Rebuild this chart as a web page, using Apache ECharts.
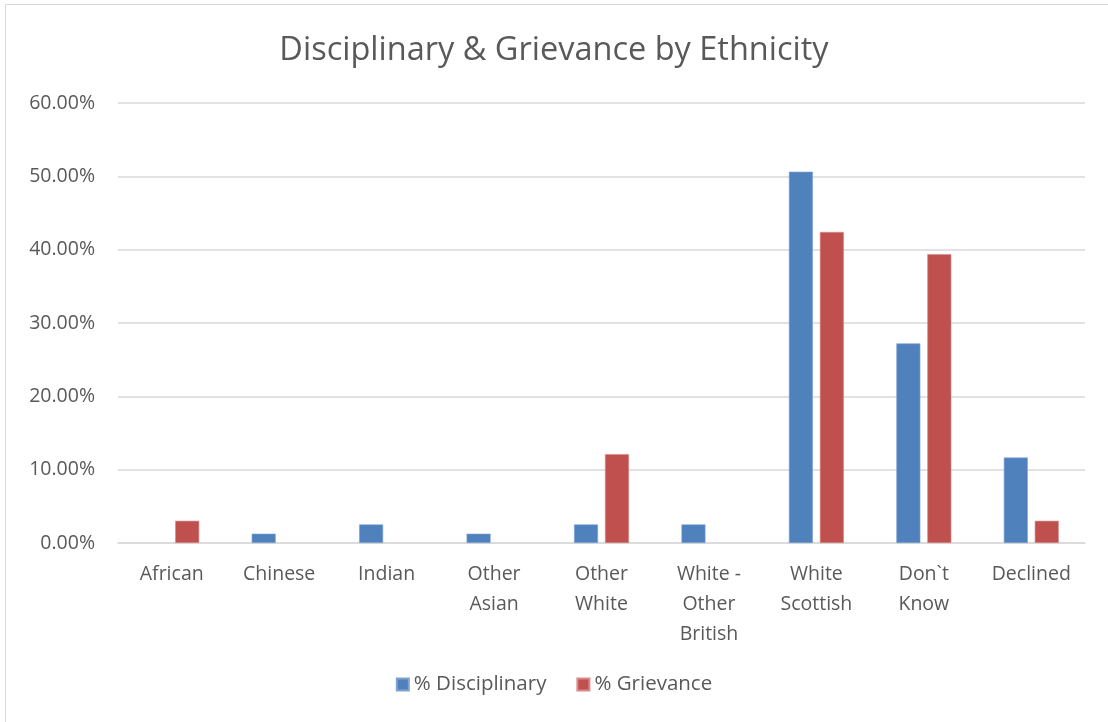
<!DOCTYPE html>
<html>
<head>
<meta charset="utf-8">
<script src="https://cdn.jsdelivr.net/npm/echarts@6/dist/echarts.min.js"></script>
<style>
html,body{margin:0;padding:0;background:#fff;}
#frame{position:absolute;left:5px;top:4px;width:1120px;height:740px;border:1px solid #d9d9d9;box-sizing:border-box;}
#chart{position:absolute;left:0;top:0;width:1108px;height:722px;}
</style>
</head>
<body>
<div id="frame"></div>
<div id="chart"></div>
<script>
const categories = ["African", "Chinese", "Indian", "Other\nAsian", "Other\nWhite", "White -\nOther\nBritish", "White\nScottish", "Don`t\nKnow", "Declined"];
const disciplinary = [0, 1.27, 2.53, 1.27, 2.53, 2.53, 50.63, 27.22, 11.65];
const grievance = [3.03, 0, 0, 0, 12.12, 0, 42.42, 39.39, 3.03];
const seriesNames = ["% Disciplinary", "% Grievance"];
const yTicks = [0, 10, 20, 30, 40, 50, 60];

const FONT = "'Open Sans', 'Noto Sans', sans-serif";
const hideZero = arr => arr.map(v => (v === 0 ? '-' : v));
const chart = echarts.init(document.getElementById('chart'), null, {renderer: 'canvas'});
chart.setOption({
  animation: false,
  backgroundColor: 'transparent',
  title: {
    text: 'Disciplinary & Grievance by Ethnicity',
    left: 'center',
    top: 29,
    textStyle: {fontFamily: FONT, fontSize: 32.5, fontWeight: 'normal', color: '#595959'}
  },
  legend: {
    bottom: 22,
    left: 'center',
    itemWidth: 12,
    itemHeight: 12,
    itemGap: 30,
    icon: 'rect',
    textStyle: {fontFamily: FONT, fontSize: 20.5, color: '#595959'},
    data: seriesNames
  },
  grid: {left: 118, right: 23, top: 103, bottom: 179, containLabel: false},
  xAxis: {
    type: 'category',
    data: categories,
    axisLine: {lineStyle: {color: '#d9d9d9', width: 1.5}},
    axisTick: {show: false},
    axisLabel: {fontFamily: FONT, fontSize: 19.5, color: '#595959', lineHeight: 30, margin: 16, interval: 0}
  },
  yAxis: {
    type: 'value',
    min: yTicks[0],
    max: yTicks[yTicks.length - 1],
    interval: 10,
    axisLine: {show: false},
    axisTick: {show: false},
    splitLine: {lineStyle: {color: '#d9d9d9', width: 1.5}},
    axisLabel: {fontFamily: FONT, fontSize: 19.5, color: '#595959', margin: 23,
      formatter: v => v.toFixed(2) + '%'}
  },
  series: [
    {name: seriesNames[0], type: 'bar', data: hideZero(disciplinary), barWidth: 24, barGap: '29%',
     itemStyle: {color: '#4F81BD', borderColor: '#7fa3d3', borderWidth: 0.6}},
    {name: seriesNames[1], type: 'bar', data: hideZero(grievance), barWidth: 24, barGap: '29%',
     itemStyle: {color: '#C0504D', borderColor: '#d98a88', borderWidth: 0.6}}
  ]
});
</script>
</body>
</html>
